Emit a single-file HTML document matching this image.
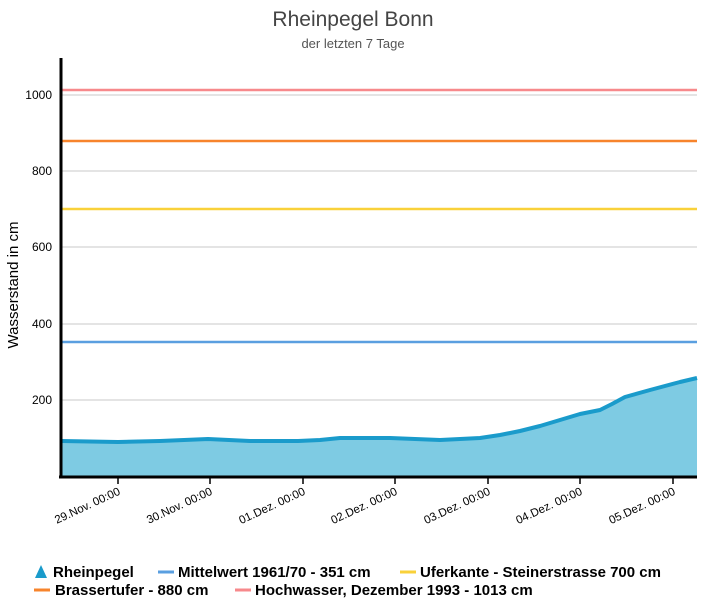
<!DOCTYPE html>
<html><head><meta charset="utf-8"><style>
body{margin:0;background:#fff;}
svg text{font-family:"Liberation Sans",sans-serif;}
</style></head><body>
<svg width="707" height="600" viewBox="0 0 707 600" xmlns="http://www.w3.org/2000/svg">
<text x="353" y="26" text-anchor="middle" font-size="21" fill="#444">Rheinpegel Bonn</text>
<text x="353" y="48" text-anchor="middle" font-size="13" fill="#555">der letzten 7 Tage</text>
<text transform="translate(18,285) rotate(-90)" text-anchor="middle" font-size="15" fill="#000">Wasserstand in cm</text>
<g stroke="#c8c8c8" stroke-width="1">
<line x1="62" x2="697" y1="95" y2="95"/><line x1="62" x2="697" y1="171" y2="171"/>
<line x1="62" x2="697" y1="247" y2="247"/><line x1="62" x2="697" y1="324" y2="324"/>
<line x1="62" x2="697" y1="400" y2="400"/>
</g>
<path d="M62,441 L118,442 L160,441 L208,439 L250,441 L298,441 L320,440 L340,438 L390,438 L440,440 L480,438 L500,435 L520,431 L540,426 L560,420 L580,414 L600,410 L612,404 L625,397 L650,390 L680,382 L697,378 L697,477 L62,477 Z" fill="#7ecbe3"/>
<path d="M62,441 L118,442 L160,441 L208,439 L250,441 L298,441 L320,440 L340,438 L390,438 L440,440 L480,438 L500,435 L520,431 L540,426 L560,420 L580,414 L600,410 L612,404 L625,397 L650,390 L680,382 L697,378" fill="none" stroke="#1a9bcb" stroke-width="4" stroke-linejoin="round"/>
<line x1="62" x2="697" y1="90" y2="90" stroke="#f7898c" stroke-width="2.5"/>
<line x1="62" x2="697" y1="141" y2="141" stroke="#f7842c" stroke-width="2.5"/>
<line x1="62" x2="697" y1="209" y2="209" stroke="#f9d13a" stroke-width="2.5"/>
<line x1="62" x2="697" y1="342" y2="342" stroke="#5a9fe0" stroke-width="2.5"/>
<line x1="61" x2="61" y1="58" y2="478" stroke="#000" stroke-width="3"/>
<line x1="59" x2="697" y1="477" y2="477" stroke="#000" stroke-width="3"/>
<g font-size="12" fill="#000" text-anchor="end">
<text x="52" y="99">1000</text><text x="52" y="175">800</text><text x="52" y="251">600</text>
<text x="52" y="328">400</text><text x="52" y="404">200</text>
</g>
<g stroke="#000" stroke-width="1.5">
<line x1="118" x2="118" y1="478" y2="484"/><line x1="210" x2="210" y1="478" y2="484"/>
<line x1="303" x2="303" y1="478" y2="484"/><line x1="395" x2="395" y1="478" y2="484"/>
<line x1="488" x2="488" y1="478" y2="484"/><line x1="580" x2="580" y1="478" y2="484"/>
<line x1="673" x2="673" y1="478" y2="484"/>
</g>
<g font-size="11.5" fill="#000" text-anchor="end">
<text transform="translate(121,494) rotate(-25)">29.Nov.  00:00</text>
<text transform="translate(213,494) rotate(-25)">30.Nov.  00:00</text>
<text transform="translate(306,494) rotate(-25)">01.Dez.  00:00</text>
<text transform="translate(398,494) rotate(-25)">02.Dez.  00:00</text>
<text transform="translate(491,494) rotate(-25)">03.Dez.  00:00</text>
<text transform="translate(583,494) rotate(-25)">04.Dez.  00:00</text>
<text transform="translate(676,494) rotate(-25)">05.Dez.  00:00</text>
</g>
<g font-size="15" font-weight="bold" fill="#000">
<polygon points="41,565 35,578 47,578" fill="#1a9bcb"/>
<text x="53" y="577">Rheinpegel</text>
<line x1="158" x2="174" y1="572" y2="572" stroke="#5a9fe0" stroke-width="3"/>
<text x="178" y="577">Mittelwert 1961/70 - 351 cm</text>
<line x1="400" x2="416" y1="572" y2="572" stroke="#f9d13a" stroke-width="3"/>
<text x="420" y="577">Uferkante - Steinerstrasse 700 cm</text>
<line x1="34" x2="50" y1="590" y2="590" stroke="#f7842c" stroke-width="3"/>
<text x="55" y="595">Brassertufer - 880 cm</text>
<line x1="235" x2="251" y1="590" y2="590" stroke="#f7898c" stroke-width="3"/>
<text x="255" y="595">Hochwasser, Dezember 1993 - 1013 cm</text>
</g>
</svg>
</body></html>
